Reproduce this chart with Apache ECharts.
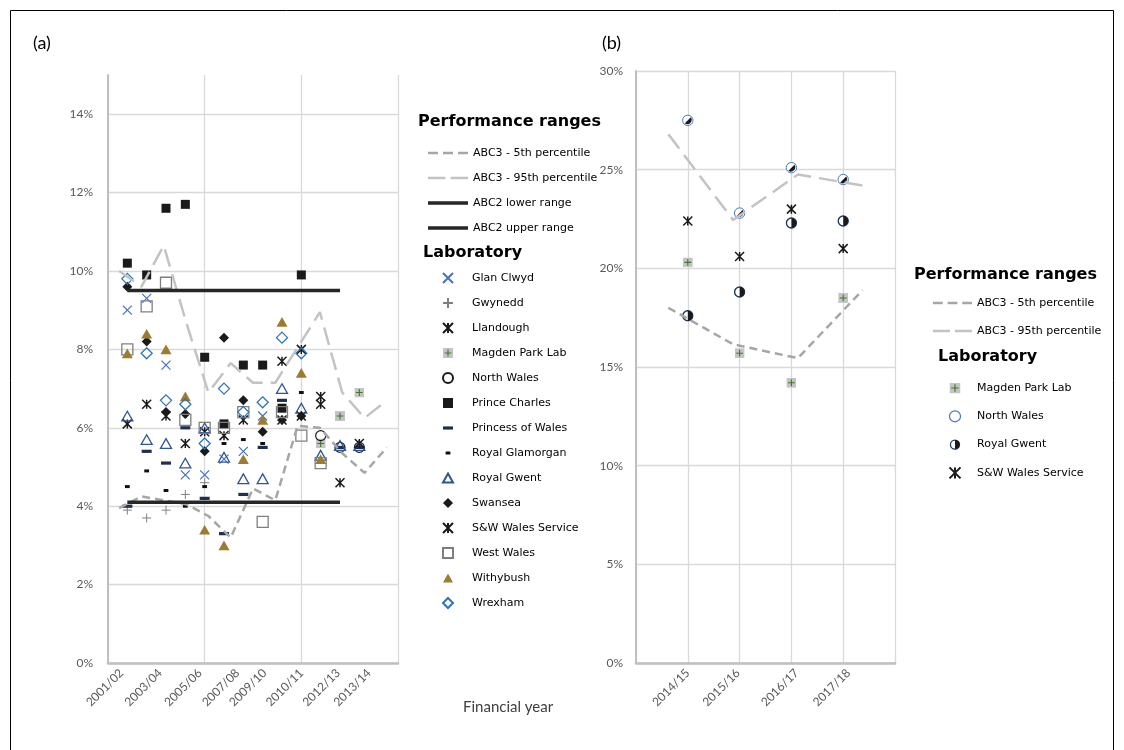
<!DOCTYPE html>
<html><head><meta charset="utf-8">
<script src="https://cdn.jsdelivr.net/npm/echarts@6/dist/echarts.min.js"></script>
<style>html,body{margin:0;padding:0;background:#fff}#c{width:1124px;height:750px}</style>
</head><body><div id="c"></div>
<script>
// ---------------- Panel (a) data ----------------
const yearsA = ['2001/02','2002/03','2003/04','2004/05','2005/06','2006/07','2007/08','2008/09','2009/10','2010/11','2011/12','2012/13','2013/14'];
const tickLabelsA = ['2001/02','2003/04','2005/06','2007/08','2009/10','2010/11','2012/13','2013/14'];
const abc3P5A  = [3.95, 4.25, 4.15, 4.05, 3.75, 3.2, 4.45, 4.15, 6.05, 6.0, 5.35, 4.85, 5.5];
const abc3P95A = [10.0, 9.6, 10.65, 8.7, 6.9, 7.65, 7.15, 7.15, 8.05, 8.95, 6.9, 6.25, 6.7];
const abc2Lower = 4.1;
const abc2Upper = 9.5;
const abc2Span = [1, 12];
// lab values, one per year index 1..13 (null = no data)
const glanClwyd       = [9.0, 9.3, 7.6, 4.8, 4.8, 5.2, 5.4, 6.3, null, null, null, null, null];
const gwynedd         = [3.9, 3.7, 3.9, 4.3, 4.6, null, null, null, null, null, null, null, null];
const llandough       = [6.1, 6.6, 6.3, 5.6, 5.9, 5.8, 6.2, null, 6.2, 6.3, 6.6, null, null];
const magdenPark      = [null, null, null, null, null, null, null, null, null, null, 5.6, 6.3, 6.9];
const northWales      = [null, null, null, null, null, null, null, null, null, null, 5.8, 5.5, 5.5];
const princeCharles   = [10.2, 9.9, 11.6, 11.7, 7.8, 6.1, 7.6, 7.6, 6.5, 9.9, null, null, null];
const princessOfWales = [4.0, 5.4, 5.1, 6.0, 4.2, 3.3, 4.3, 5.5, 6.7, null, null, 5.5, 5.5];
const royalGlamorgan  = [4.5, 4.9, 4.4, 4.0, 4.5, 5.6, 5.7, 5.6, 6.55, 6.9, null, null, null];
const royalGwent      = [6.3, 5.7, 5.6, 5.1, 6.0, 5.25, 4.7, 4.7, 7.0, 6.5, 5.3, 5.55, 5.55];
const swansea         = [9.6, 8.2, 6.4, 6.35, 5.4, 8.3, 6.7, 5.9, 6.2, 6.3, null, null, null];
const swWales         = [null, null, null, null, null, null, null, null, 7.7, 8.0, 6.8, 4.6, 5.6];
const westWales       = [8.0, 9.1, 9.7, 6.2, 6.0, 6.0, 6.4, 3.6, 6.4, 5.8, 5.1, null, null];
const withybush       = [7.9, 8.4, 8.0, 6.8, 3.4, 3.0, 5.2, 6.2, 8.7, 7.4, 5.2, null, null];
const wrexham         = [9.8, 7.9, 6.7, 6.6, 5.6, 7.0, 6.4, 6.65, 8.3, 7.9, null, null, null];

// ---------------- Panel (b) data ----------------
const yearsB = ['2014/15','2015/16','2016/17','2017/18'];
const abc3P5B  = [18.0, 16.15, 15.45, 18.9];
const abc3P95B = [26.8, 22.45, 24.75, 24.2];
const magdenParkB = [20.3, 15.7, 14.2, 18.5];
const northWalesB = [27.5, 22.8, 25.1, 24.5];
const royalGwentB = [17.6, 18.8, 22.3, 22.4];
const swWalesB    = [22.4, 20.6, 23.0, 21.0];

// label anchor positions on the x value axes
const tickPosA = [0.7, 2.7, 4.75, 6.7, 8.1, 10.0, 11.9, 13.5];
const tickPosB = [1.0, 1.97, 3.1, 4.1];

// ---------------- symbols ----------------
const svgUrl = s => 'image://data:image/svg+xml;charset=utf-8,' + encodeURIComponent(s);
const MAGDEN = svgUrl("<svg xmlns='http://www.w3.org/2000/svg' width='24' height='24' viewBox='0 0 10 10'><rect width='10' height='10' fill='#c4c4c4'/><path d='M5 1.6V8.4M1.6 5H8.4' stroke='#3b7a27' stroke-width='1.1'/></svg>");
const NW_B = svgUrl("<svg xmlns='http://www.w3.org/2000/svg' width='24' height='24' viewBox='0 0 12 12'><circle cx='6' cy='6' r='5.2' fill='#fff' stroke='#4472c4' stroke-width='1'/><path d='M3 9A4.3 4.3 0 0 0 9 3Z' fill='#1a1a1a'/></svg>");
const RG_B = svgUrl("<svg xmlns='http://www.w3.org/2000/svg' width='24' height='24' viewBox='0 0 12 12'><circle cx='6' cy='6' r='5' fill='#fff' stroke='#1f3864' stroke-width='1.4'/><path d='M6 1A5 5 0 0 1 6 11Z' fill='#1a1a1a'/></svg>");
const X_PATH = 'path://M0,0L10,10M10,0L0,10';
const PLUS_PATH = 'path://M5,0L5,10M0,5L10,5';
const STAR_PATH = 'path://M0,0L10,10M10,0L0,10M5,0L5,10';
const DASH_PATH = 'path://M0,0M10,10M0,3.4L10,3.4L10,6.6L0,6.6Z';
const SDASH_PATH = 'path://M0,0M10,10M2.6,3.5L7.4,3.5L7.4,6.5L2.6,6.5Z';
const SQUARE_PATH = 'path://M0,0L10,0L10,10L0,10Z';
const TRI_PATH = 'path://M0,0M10,10M5,0.6L10,9.4L0,9.4Z';
const DIAMOND_PATH = 'path://M5,0L10,5L5,10L0,5Z';
const CIRCLE_PATH = 'path://M0,5A5,5,0,1,1,10,5A5,5,0,1,1,0,5Z';
const ICON_P5 = 'path://M0,0h10v2.6h-10zM15,0h10v2.6h-10zM30,0h10v2.6h-10z';
const ICON_P95 = 'path://M0,0h17.5v2.6h-17.5zM22.5,0h17.5v2.6h-17.5z';
const ICON_SOLID = 'path://M0,0h40v3.4h-40z';

const labsA = [
  ['Glan Clwyd', glanClwyd, X_PATH, 9, {color:'#4472c4', borderColor:'#4472c4', borderWidth:1.2}],
  ['Gwynedd', gwynedd, PLUS_PATH, 9, {color:'#808080', borderColor:'#808080', borderWidth:1}],
  ['Llandough', llandough, STAR_PATH, 9, {color:'#1a1a1a', borderColor:'#1a1a1a', borderWidth:1.5}],
  ['Magden Park Lab', magdenPark, MAGDEN, 10, {}],
  ['North Wales', northWales, CIRCLE_PATH, 10, {color:'transparent', borderColor:'#1a1a1a', borderWidth:1.2}],
  ['Prince Charles', princeCharles, SQUARE_PATH, 9, {color:'#1a1a1a'}],
  ['Princess of Wales', princessOfWales, DASH_PATH, 10, {color:'#1f2f4f'}],
  ['Royal Glamorgan', royalGlamorgan, SDASH_PATH, 10, {color:'#111111'}],
  ['Royal Gwent', royalGwent, TRI_PATH, 11, {color:'transparent', borderColor:'#2f5597', borderWidth:1.3}],
  ['Swansea', swansea, DIAMOND_PATH, 10, {color:'#1a1a1a'}],
  ['S&W Wales Service', swWales, STAR_PATH, 9, {color:'#1a1a1a', borderColor:'#1a1a1a', borderWidth:1.5}],
  ['West Wales', westWales, SQUARE_PATH, 11, {color:'transparent', borderColor:'#7f7f7f', borderWidth:1.3}],
  ['Withybush', withybush, TRI_PATH, 11, {color:'#9e7b2f'}],
  ['Wrexham', wrexham, DIAMOND_PATH, 11, {color:'transparent', borderColor:'#2e75b6', borderWidth:1.3}]
];
const labsB = [
  ['Magden Park Lab', magdenParkB, MAGDEN, 10, {}],
  ['North Wales', northWalesB, NW_B, 12, {}],
  ['Royal Gwent', royalGwentB, RG_B, 12, {}],
  ['S&W Wales Service', swWalesB, STAR_PATH, 9, {color:'#1a1a1a', borderColor:'#1a1a1a', borderWidth:1.5}]
];

const toPts = arr => arr.map((v, i) => v == null ? null : [i + 1, v]).filter(Boolean);

const P5 = {color:'#a6a6a6', width:2.5, type:[8,5]};
const P95 = {color:'#c3c3c3', width:2.5, type:[18,8]};
const ABC2 = {color:'#262626', width:3.5};

const series = [];
// panel a lines
series.push({type:'line', name:'ABC3 - 5th percentile', xAxisIndex:1, yAxisIndex:0, data:abc3P5A, symbol:'none', lineStyle:P5, silent:true});
series.push({type:'line', name:'ABC3 - 95th percentile', xAxisIndex:1, yAxisIndex:0, data:abc3P95A, symbol:'none', lineStyle:P95, silent:true});
series.push({type:'line', name:'ABC2 lower range', xAxisIndex:0, yAxisIndex:0, data:abc2Span.map(x => [x, abc2Lower]), symbol:'none', lineStyle:ABC2, silent:true});
series.push({type:'line', name:'ABC2 upper range', xAxisIndex:0, yAxisIndex:0, data:abc2Span.map(x => [x, abc2Upper]), symbol:'none', lineStyle:ABC2, silent:true});
// panel b lines
series.push({type:'line', name:'ABC3 - 5th percentile', xAxisIndex:3, yAxisIndex:1, data:abc3P5B, symbol:'none', lineStyle:P5, silent:true});
series.push({type:'line', name:'ABC3 - 95th percentile', xAxisIndex:3, yAxisIndex:1, data:abc3P95B, symbol:'none', lineStyle:P95, silent:true});
labsA.forEach(([name, arr, sym, size, st]) => series.push({type:'scatter', name, xAxisIndex:0, yAxisIndex:0, data:toPts(arr), symbol:sym, symbolSize:size, itemStyle:Object.assign({opacity:1}, st), silent:true}));
labsB.forEach(([name, arr, sym, size, st]) => series.push({type:'scatter', name, xAxisIndex:2, yAxisIndex:1, data:toPts(arr), symbol:sym, symbolSize:size, itemStyle:Object.assign({opacity:1}, st), silent:true}));

const LEG_TEXT = {fontFamily:'DejaVu Sans', fontSize:11, color:'#000', lineHeight:14};
const AX_LABEL = {fontFamily:'Lato', fontSize:12, color:'#595959'};
const GRID_LINE = {color:'#d9d9d9', width:1.3};
const AX_LINE = {color:'#bfbfbf', width:2};

const perfItems = [
  {name:'ABC3 - 5th percentile', icon:ICON_P5, itemStyle:{color:'#a6a6a6', borderWidth:0}},
  {name:'ABC3 - 95th percentile', icon:ICON_P95, itemStyle:{color:'#c3c3c3', borderWidth:0}},
  {name:'ABC2 lower range', icon:ICON_SOLID, itemStyle:{color:'#262626', borderWidth:0}},
  {name:'ABC2 upper range', icon:ICON_SOLID, itemStyle:{color:'#262626', borderWidth:0}}
];

const option = {
  animation:false,
  backgroundColor:'#fff',
  grid:[
    {left:108, top:75, width:290, height:588},
    {left:636, top:71, width:259, height:592}
  ],
  xAxis:[
    {gridIndex:0, type:'value', min:0, max:15, interval:5,
      axisLine:{show:true, lineStyle:{color:'#bfbfbf', width:2.5}}, axisTick:{show:false},
      splitLine:{show:true, lineStyle:GRID_LINE},
      axisLabel:Object.assign({customValues:tickPosA, rotate:45, margin:8,
        formatter:v => { const i = tickPosA.indexOf(v); return i >= 0 ? tickLabelsA[i] : ''; }}, AX_LABEL)},
    {gridIndex:0, type:'category', data:yearsA, boundaryGap:true, show:false},
    {gridIndex:1, type:'value', min:0, max:5, interval:1,
      axisLine:{show:true, lineStyle:{color:'#bfbfbf', width:2.5}}, axisTick:{show:false},
      splitLine:{show:true, lineStyle:GRID_LINE},
      axisLabel:Object.assign({customValues:tickPosB, rotate:45, margin:8,
        formatter:v => { const i = tickPosB.indexOf(v); return i >= 0 ? yearsB[i] : ''; }}, AX_LABEL)},
    {gridIndex:1, type:'category', data:yearsB, boundaryGap:true, show:false}
  ],
  yAxis:[
    {gridIndex:0, type:'value', min:0, max:15, interval:2,
      axisLine:{show:true, lineStyle:AX_LINE}, axisTick:{show:false},
      splitLine:{show:true, showMaxLine:false, lineStyle:GRID_LINE},
      axisLabel:Object.assign({margin:15, showMaxLabel:false, formatter:v => v > 14 ? '' : v + '%'}, AX_LABEL)},
    {gridIndex:1, type:'value', min:0, max:30, interval:5,
      axisLine:{show:true, lineStyle:AX_LINE}, axisTick:{show:false},
      splitLine:{show:true, lineStyle:GRID_LINE},
      axisLabel:Object.assign({margin:13, formatter:v => v + '%'}, AX_LABEL)}
  ],
  legend:[
    {orient:'vertical', left:428, top:146, padding:0, itemWidth:40, itemHeight:14, itemGap:11,
      selectedMode:false, textStyle:LEG_TEXT, data:perfItems},
    {orient:'vertical', left:429, top:271, padding:0, itemWidth:38, itemHeight:10, itemGap:11,
      selectedMode:false, textStyle:LEG_TEXT, data:labsA.map(l => l[0])},
    {orient:'vertical', left:933, top:296, padding:0, itemWidth:39, itemHeight:14, itemGap:14,
      selectedMode:false, textStyle:LEG_TEXT, data:perfItems.slice(0, 2)},
    {orient:'vertical', left:938, top:381, padding:0, itemWidth:34, itemHeight:11, itemGap:14.3,
      selectedMode:false, textStyle:LEG_TEXT,
      data:[
        {name:'Magden Park Lab', icon:MAGDEN},
        {name:'North Wales', icon:CIRCLE_PATH, itemStyle:{color:'transparent', borderColor:'#4472c4', borderWidth:1.2}},
        {name:'Royal Gwent', icon:RG_B},
        {name:'S&W Wales Service'}
      ]}
  ],
  graphic:[
    {type:'rect', shape:{x:10.5, y:10.5, width:1103, height:760}, style:{fill:'none', stroke:'#000', lineWidth:1}, silent:true},
    {type:'text', x:33, y:43, style:{text:'(a)', font:'18px Lato', fill:'#000', verticalAlign:'middle', textVerticalAlign:'middle'}},
    {type:'text', x:602, y:43, style:{text:'(b)', font:'18px Lato', fill:'#000', verticalAlign:'middle', textVerticalAlign:'middle'}},
    {type:'text', x:463, y:707, style:{text:'Financial year', font:'15px Lato', fill:'#404040', verticalAlign:'middle', textVerticalAlign:'middle'}},
    {type:'text', x:418, y:122, style:{text:'Performance ranges', font:'bold 16px "DejaVu Sans"', fill:'#000', verticalAlign:'middle', textVerticalAlign:'middle'}},
    {type:'text', x:423, y:253, style:{text:'Laboratory', font:'bold 16px "DejaVu Sans"', fill:'#000', verticalAlign:'middle', textVerticalAlign:'middle'}},
    {type:'text', x:914, y:275, style:{text:'Performance ranges', font:'bold 16px "DejaVu Sans"', fill:'#000', verticalAlign:'middle', textVerticalAlign:'middle'}},
    {type:'text', x:938, y:357, style:{text:'Laboratory', font:'bold 16px "DejaVu Sans"', fill:'#000', verticalAlign:'middle', textVerticalAlign:'middle'}}
  ],
  series
};

const chart = echarts.init(document.getElementById('c'), null, {renderer:'canvas'});
chart.setOption(option);
</script>
</body></html>
